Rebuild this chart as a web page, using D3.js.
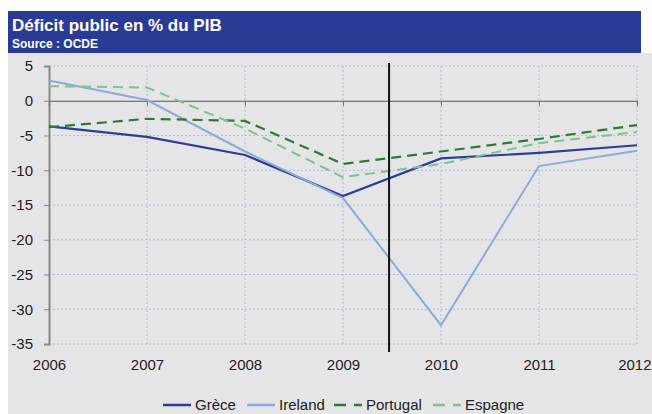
<!DOCTYPE html>
<html lang="fr">
<head>
<meta charset="UTF-8">
<title>Déficit public en % du PIB</title>
<script src="https://cdn.jsdelivr.net/npm/d3@7"></script>
<style>
  body { margin: 0; background: #fff; font-family: 'Liberation Sans', Arial, sans-serif; }
  svg { display: block; }
  .grid line { stroke: #a9bfdc; stroke-dasharray: 2 2; stroke-width: 1; }
  .axis text { font-size: 15px; fill: #222; font-family: 'Liberation Sans', Arial, sans-serif; }
  .legend text { font-size: 15px; fill: #222; }
</style>
</head>
<body>
<svg id="chart" width="652" height="414"></svg>
<script>
// values
const years = [2006, 2007, 2008, 2009, 2010, 2011, 2012];
const grece    = [-3.7, -5.2, -7.8, -13.7, -8.3, -7.5, -6.4];
const ireland  = [2.9, 0.1, -7.3, -14.0, -32.3, -9.4, -7.2];
const portugal = [-3.8, -2.6, -2.9, -9.1, -7.3, -5.5, -3.5];
const espagne  = [2.1, 1.9, -4.0, -11.0, -9.1, -6.1, -4.5];
const yTicks = [5, 0, -5, -10, -15, -20, -25, -30, -35];
const markerYear = 2009.47;

const series = [
  { name: 'Grèce',    values: grece,    color: '#2a3f9c', dash: null,    width: 2.2 },
  { name: 'Ireland',  values: ireland,  color: '#8eaad8', dash: null,    width: 2 },
  { name: 'Portugal', values: portugal, color: '#2c7b34', dash: '10 6',  width: 2.2 },
  { name: 'Espagne',  values: espagne,  color: '#7cc48e', dash: '10 6',  width: 2 }
];

const svg = d3.select('#chart');

// backgrounds
svg.append('rect').attr('x', 8).attr('y', 53).attr('width', 644).attr('height', 361).attr('fill', '#e5e5e7');
svg.append('rect').attr('x', 8).attr('y', 11).attr('width', 633).attr('height', 42).attr('fill', '#2b3b95');
svg.append('text').attr('x', 12).attr('y', 31).attr('fill', '#fff')
  .attr('font-size', 17).attr('font-weight', 'bold').text('Déficit public en % du PIB');
svg.append('text').attr('x', 12).attr('y', 48).attr('fill', '#fff')
  .attr('font-size', 12).attr('font-weight', 'bold').text('Source : OCDE');

const x = d3.scaleLinear().domain([2006, 2012]).range([49, 637]);
const y = d3.scaleLinear().domain([-35, 5]).range([344, 66]);

// grid
const grid = svg.append('g').attr('class', 'grid');
grid.selectAll('.h').data(yTicks.filter(d => d !== 0)).join('line')
  .attr('x1', x(2006)).attr('x2', x(2012)).attr('y1', d => y(d)).attr('y2', d => y(d));
grid.selectAll('.v').data(years.slice(1)).join('line')
  .attr('x1', d => x(d)).attr('x2', d => x(d)).attr('y1', y(5)).attr('y2', y(-35));

// y axis
const yAxis = svg.append('g').attr('class', 'axis')
  .attr('transform', `translate(${x(2006)},0)`)
  .call(d3.axisLeft(y).tickValues(yTicks).tickFormat(d => String(d)).tickSize(5).tickPadding(11));
yAxis.select('.domain').attr('stroke', '#888').attr('stroke-width', 2);
yAxis.selectAll('.tick line').attr('stroke', '#888');

// x axis line at zero, labels at bottom
const xAxis = svg.append('g').attr('class', 'axis')
  .attr('transform', `translate(0,${y(0)})`)
  .call(d3.axisBottom(x).tickValues(years).tickFormat(d => String(d)).tickSize(5));
xAxis.select('.domain').attr('stroke', '#555').attr('stroke-width', 1.2);
xAxis.selectAll('.tick line').attr('stroke', '#777');
xAxis.selectAll('.tick text').attr('y', y(-35) - y(0) + 15).attr('dy', '0.71em');
// last label would be cut at the right edge
xAxis.selectAll('.tick text').filter(d => d === 2012)
  .attr('text-anchor', 'end').attr('x', 651 - x(2012));

// series
const line = d3.line().x((d, i) => x(years[i])).y(d => y(d));
svg.append('g').selectAll('path').data(series).join('path')
  .attr('d', d => line(d.values))
  .attr('fill', 'none')
  .attr('stroke', d => d.color)
  .attr('stroke-width', d => d.width)
  .attr('stroke-dasharray', d => d.dash);

// vertical marker
svg.append('line')
  .attr('x1', x(markerYear)).attr('x2', x(markerYear))
  .attr('y1', 63).attr('y2', 352)
  .attr('stroke', '#111').attr('stroke-width', 2);

// legend
const legendX = [163, 247, 334, 433];
const legend = svg.append('g').attr('class', 'legend');
const item = legend.selectAll('g').data(series).join('g')
  .attr('transform', (d, i) => `translate(${legendX[i]},405)`);
item.append('line').attr('x1', 0).attr('x2', 28).attr('y1', 0).attr('y2', 0)
  .attr('stroke', d => d.color).attr('stroke-width', 2.5)
  .attr('stroke-dasharray', d => d.dash ? '12 8' : null);
item.append('text').attr('x', 32).attr('y', 5).text(d => d.name);
</script>
</body>
</html>
